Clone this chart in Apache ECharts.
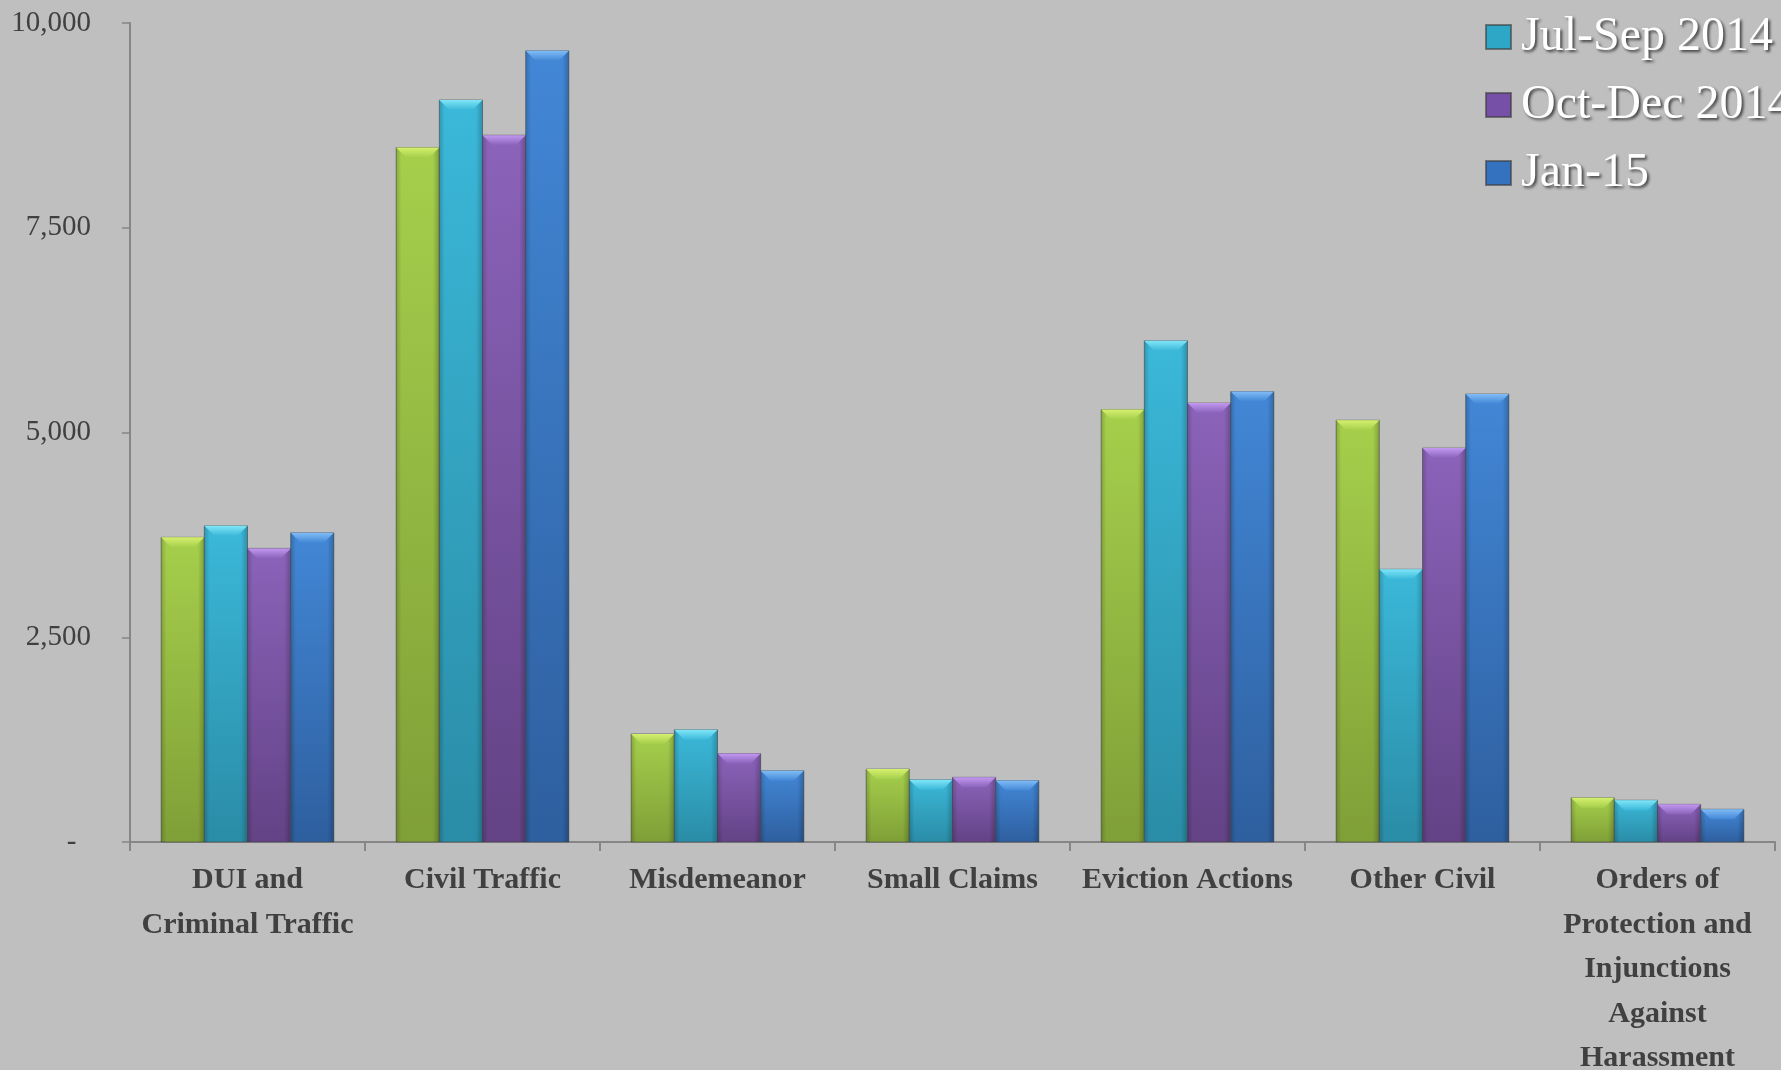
<!DOCTYPE html>
<html>
<head>
<meta charset="utf-8">
<script src="https://cdn.jsdelivr.net/npm/echarts@6/dist/echarts.min.js"></script>
<style>
html,body{margin:0;padding:0;background:#bfbfbf;}
#chart{width:1781px;height:1070px;}
</style>
</head>
<body>
<div id="chart"></div>
<script>
// ---- data ----
const categories = [
  'DUI and\nCriminal Traffic',
  'Civil Traffic',
  'Misdemeanor',
  'Small Claims',
  'Eviction Actions',
  'Other Civil',
  'Orders of\nProtection and\nInjunctions\nAgainst\nHarassment'
];
const seriesNames = ['Apr-Jun 2014', 'Jul-Sep 2014', 'Oct-Dec 2014', 'Jan-15'];
const aprJun2014 = [3720, 8480, 1320, 890, 5280, 5150, 540];
const julSep2014 = [3860, 9060, 1370, 760, 6120, 3330, 510];
const octDec2014 = [3585, 8630, 1080, 790, 5360, 4810, 460];
const jan2015   = [3775, 9660, 870, 750, 5500, 5470, 400];
const legendNames = ['Jul-Sep 2014', 'Oct-Dec 2014', 'Jan-15'];
const yTicks = [0, 2500, 5000, 7500, 10000];
const yTickLabels = ['-  ', '2,500', '5,000', '7,500', '10,000'];

// ---- styles ----
const palette = [
  {top:'#a6cf4c', bottom:'#7f9f37', cap:'#d4f06e', legend:'#92ba42'},
  {top:'#3bb8d9', bottom:'#2a8ca6', cap:'#80e6f8', legend:'#2ea6c6'},
  {top:'#8b63ba', bottom:'#634285', cap:'#c298f0', legend:'#7650a6'},
  {top:'#4287d6', bottom:'#2e5f9f', cap:'#80bcf6', legend:'#3472c0'}
];
const allValues = [aprJun2014, julSep2014, octDec2014, jan2015];

function makeRender(si) {
  return function (params, api) {
    const ci = api.value(0);
    const v = api.value(1);
    const base = api.coord([ci, 0]);
    const top = api.coord([ci, v]);
    const band = api.size([1, 0])[0];
    const barW = band * 0.735 / 4;
    const cx = base[0] + (si - 1.5) * barW;
    const x0 = cx - barW / 2;
    const y0 = top[1];
    const h = base[1] - top[1];
    const cap = Math.min(10, h / 2);
    const c = palette[si];
    return {
      type: 'group',
      children: [
        {
          type: 'rect',
          shape: {x: x0, y: y0, width: barW, height: h},
          style: {
            fill: new echarts.graphic.LinearGradient(0, 0, 0, 1, [
              {offset: 0, color: c.top},
              {offset: 1, color: c.bottom}
            ]),
            stroke: 'rgba(70,70,70,0.55)',
            lineWidth: 1
          }
        },
        {
          type: 'rect',
          shape: {x: x0, y: y0, width: barW, height: h},
          style: {
            fill: new echarts.graphic.LinearGradient(0, 0, 1, 0, [
              {offset: 0, color: 'rgba(0,0,0,0.18)'},
              {offset: 0.12, color: 'rgba(0,0,0,0)'},
              {offset: 0.85, color: 'rgba(0,0,0,0)'},
              {offset: 1, color: 'rgba(0,0,0,0.22)'}
            ])
          },
          silent: true
        },
        {
          type: 'polygon',
          shape: {points: [[x0, y0], [x0 + barW, y0], [x0 + barW - cap, y0 + cap], [x0 + cap, y0 + cap]]},
          style: {
            fill: new echarts.graphic.LinearGradient(0, 0, 0, 1, [
              {offset: 0, color: c.cap},
              {offset: 1, color: c.top}
            ])
          },
          silent: true
        }
      ]
    };
  };
}

const series = seriesNames.map((name, si) => ({
  name: name,
  type: 'custom',
  renderItem: makeRender(si),
  encode: {x: 0, y: 1},
  itemStyle: {color: palette[si].legend, borderColor: 'rgba(60,60,60,0.6)', borderWidth: 1},
  data: allValues[si].map((v, i) => [i, v]),
  z: 3
}));

const chart = echarts.init(document.getElementById('chart'), null, {renderer: 'canvas'});
chart.setOption({
  backgroundColor: '#bfbfbf',
  animation: false,
  grid: {left: 130, right: 6, top: 23, bottom: 228, containLabel: false, outerBoundsMode: 'none'},
  legend: {
    data: legendNames,
    orient: 'vertical',
    left: 1480,
    top: 7,
    icon: 'rect',
    itemWidth: 25,
    itemHeight: 24,
    itemGap: 18,
    textStyle: {
      fontFamily: '"Liberation Serif", "Times New Roman", serif',
      fontSize: 48,
      lineHeight: 50,
      color: '#ffffff',
      padding: [0, 0, 0, 5],
      textShadowColor: 'rgba(0,0,0,0.65)',
      textShadowBlur: 3,
      textShadowOffsetX: 2,
      textShadowOffsetY: 2
    }
  },
  xAxis: {
    type: 'category',
    data: categories,
    axisLine: {show: true, lineStyle: {color: '#868686', width: 2}},
    axisTick: {show: true, length: 9, lineStyle: {color: '#868686', width: 2}},
    axisLabel: {
      interval: 0,
      margin: 16,
      fontFamily: '"Liberation Serif", "Times New Roman", serif',
      fontWeight: 'bold',
      fontSize: 30,
      lineHeight: 44.5,
      color: '#404040',
      align: 'center'
    },
    splitLine: {show: false}
  },
  yAxis: {
    type: 'value',
    min: 0,
    max: 10000,
    interval: 2500,
    axisLine: {show: true, lineStyle: {color: '#868686', width: 2}},
    axisTick: {show: true, length: 8, lineStyle: {color: '#868686', width: 1.5}},
    splitLine: {show: false},
    axisLabel: {
      margin: 39,
      fontFamily: '"Liberation Serif", "Times New Roman", serif',
      fontSize: 29,
      color: '#404040',
      formatter: function (v) {
        const idx = yTicks.indexOf(v);
        return idx >= 0 ? yTickLabels[idx] : String(v);
      }
    }
  },
  series: series
});
</script>
</body>
</html>
